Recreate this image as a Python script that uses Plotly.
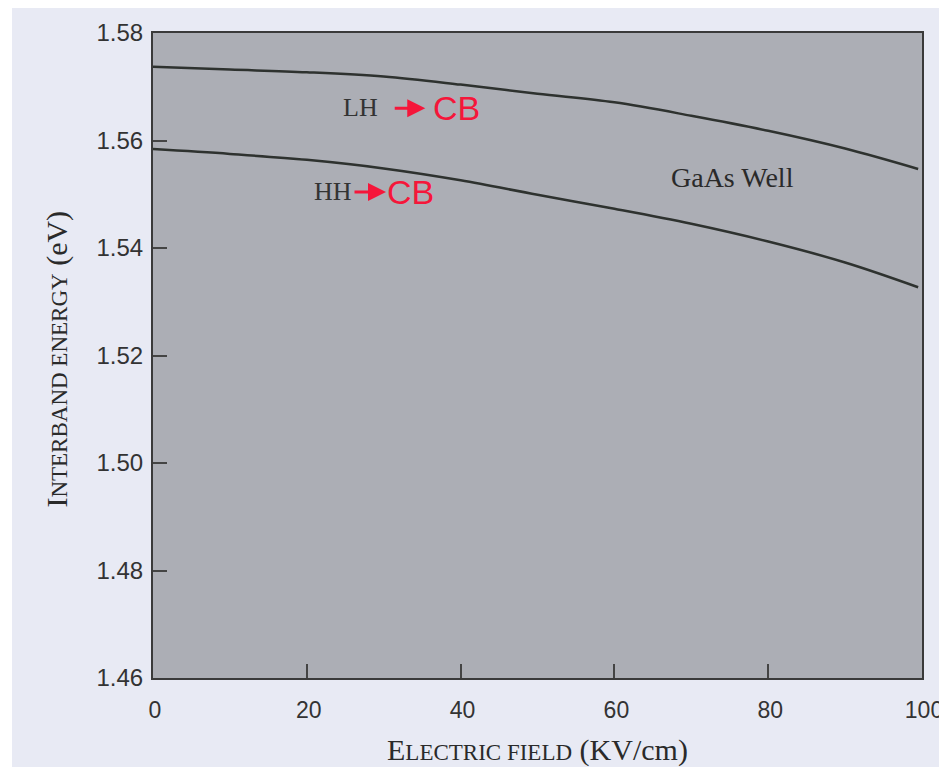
import plotly.graph_objects as go

# Data
field = [0, 10, 20, 30, 40, 50, 60, 70, 80, 90, 99.5]
lh_cb = [1.5737, 1.5732, 1.5727, 1.5719, 1.5704, 1.5687, 1.5671, 1.5646, 1.5618, 1.5585, 1.5547]
hh_cb = [1.5584, 1.5575, 1.5564, 1.5548, 1.5526, 1.5499, 1.5473, 1.5445, 1.5412, 1.5373, 1.5327]

x_ticks = [0, 20, 40, 60, 80, 100]
y_ticks = [1.46, 1.48, 1.50, 1.52, 1.54, 1.56, 1.58]

LINE = "#2e322f"
RED = "#f5163a"
SERIF = "Liberation Serif, Times New Roman, serif"
SANS = "Liberation Sans, Arial, sans-serif"

fig = go.Figure()
fig.add_trace(go.Scatter(x=field, y=lh_cb, mode="lines", name="LH→CB",
                         line=dict(color=LINE, width=2.5, shape="spline", smoothing=1.0)))
fig.add_trace(go.Scatter(x=field, y=hh_cb, mode="lines", name="HH→CB",
                         line=dict(color=LINE, width=2.5, shape="spline", smoothing=1.0)))

axis_common = dict(showgrid=False, zeroline=False, showline=True, mirror=True,
                   linecolor="#3a3a3a", linewidth=2, ticks="inside", ticklen=14,
                   tickwidth=1.5, tickcolor="#444", automargin=False)

fig.update_xaxes(range=[0, 100.0001], tickvals=x_ticks, ticktext=[str(v) for v in x_ticks],
                 ticklabelstandoff=10, ticklabelshift=2, ticklabeloverflow="allow",
                 tickfont=dict(family=SANS, size=23, color="#333"),
                 **axis_common)
fig.update_yaxes(range=[1.46, 1.58], tickvals=y_ticks, ticktext=[f"{v:.2f}" for v in y_ticks],
                 ticklabelstandoff=3, tickfont=dict(family=SANS, size=24, color="#333"),
                 **axis_common)

ann = []
ann.append(dict(x=0.5, y=-0.112, xref="paper", yref="paper", showarrow=False,
                xanchor="center", yanchor="middle",
                text="E<span style='font-size:23px'>LECTRIC FIELD</span> (KV/cm)",
                font=dict(family=SERIF, size=30, color="#2a2a2a")))
ann.append(dict(x=-0.125, y=0.495, xref="paper", yref="paper", showarrow=False,
                xanchor="center", yanchor="middle", textangle=-90,
                text="I<span style='font-size:23px'>NTERBAND ENERGY</span> (eV)",
                font=dict(family=SERIF, size=30, color="#2a2a2a")))
ann.append(dict(x=27.0, y=1.5662, text="LH", showarrow=False,
                font=dict(family=SERIF, size=26, color="#333")))
ann.append(dict(x=35.4, y=1.5660, ax=-32, ay=0, text="", showarrow=True,
                arrowhead=2, arrowsize=1.2, arrowwidth=3, arrowcolor=RED))
ann.append(dict(x=39.5, y=1.5660, text="CB", showarrow=False,
                font=dict(family=SANS, size=34, color=RED)))
ann.append(dict(x=23.4, y=1.5506, text="HH", showarrow=False,
                font=dict(family=SERIF, size=26, color="#333")))
ann.append(dict(x=30.3, y=1.5504, ax=-33, ay=0, text="", showarrow=True,
                arrowhead=2, arrowsize=1.2, arrowwidth=3, arrowcolor=RED))
ann.append(dict(x=33.5, y=1.5504, text="CB", showarrow=False,
                font=dict(family=SANS, size=34, color=RED)))
ann.append(dict(x=75.3, y=1.5532, text="GaAs Well", showarrow=False,
                font=dict(family=SERIF, size=28, color="#2a2a2a")))

shapes = [
    dict(type="rect", xref="paper", yref="paper", x0=-0.2, x1=-0.1834, y0=-0.2, y1=1.1,
         fillcolor="white", line=dict(width=0), layer="below"),
]

# the page body adds an 8px margin, so the figure is 8px smaller than the window
fig.update_layout(width=939, height=759,
                  margin=dict(l=145, r=25, t=25, b=89, autoexpand=False),
                  paper_bgcolor="#e8eaf4", plot_bgcolor="#acaeb5",
                  showlegend=False, annotations=ann, shapes=shapes)

fig.write_html("out.html")
